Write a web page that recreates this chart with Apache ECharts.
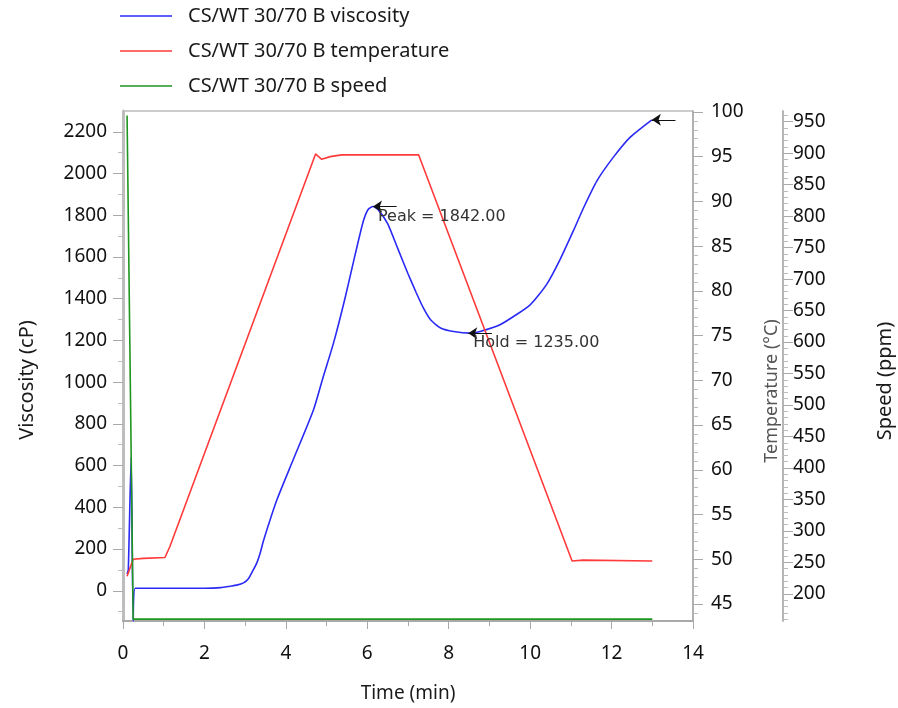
<!DOCTYPE html>
<html><head><meta charset="utf-8">
<script src="https://cdn.jsdelivr.net/npm/echarts@6/dist/echarts.min.js"></script>
<style>html,body{margin:0;padding:0;background:#fff}#chart{width:898px;height:708px}</style>
</head><body><div id="chart"></div>
<script>
// ---- data ----
const viscosityTime = [0.1, 0.13, 0.2, 0.25, 0.3, 1.0, 2.0, 2.4, 2.63, 2.79, 2.96, 3.08, 3.2, 3.29, 3.37, 3.45, 3.78, 4.18, 4.68, 4.92, 5.17, 5.45, 5.7, 5.9, 6.02, 6.14, 6.27, 6.5, 6.75, 7.0, 7.2, 7.38, 7.56, 7.8, 8.12, 8.53, 8.77, 9.26, 10.0, 10.41, 10.74, 11.06, 11.31, 11.64, 12.05, 12.46, 12.99];
const viscosityCp   = [80, 100, 642, -145, 12, 12, 12, 15, 22, 27, 38, 58, 100, 135, 181, 240, 436, 628, 868, 1027, 1187, 1400, 1610, 1770, 1828, 1842, 1826, 1760, 1640, 1520, 1430, 1355, 1298, 1260, 1243, 1235, 1243, 1275, 1371, 1470, 1590, 1725, 1835, 1965, 2080, 2175, 2258];

const temperatureTime = [0.1, 0.25, 0.5, 1.03, 1.15, 4.73, 4.88, 5.09, 5.37, 7.26, 11.03, 11.3, 13.0];
const temperatureC    = [48.1, 50.0, 50.1, 50.2, 51.4, 95.3, 94.7, 95.0, 95.2, 95.2, 49.8, 49.9, 49.8];

const speedTime = [0.1, 0.25, 13.0];
const speedRpm  = [960, 160, 160];

const seriesNames = ['CS/WT 30/70 B viscosity', 'CS/WT 30/70 B temperature', 'CS/WT 30/70 B speed'];

const timeTicks = [0, 2, 4, 6, 8, 10, 12, 14];
const viscosityTicks = [0, 200, 400, 600, 800, 1000, 1200, 1400, 1600, 1800, 2000, 2200];
const viscosityMinor = [-100, 100, 300, 500, 700, 900, 1100, 1300, 1500, 1700, 1900, 2100];
const temperatureTicks = [45, 50, 55, 60, 65, 70, 75, 80, 85, 90, 95, 100];
const speedTicks = [200, 250, 300, 350, 400, 450, 500, 550, 600, 650, 700, 750, 800, 850, 900, 950];

// annotations: [time, viscosity, label]
const peakNote = [6.14, 1842, 'Peak = 1842.00'];
const holdNote = [8.48, 1235, 'Hold = 1235.00'];
const endNote  = [12.99, 2258, ''];
const arrowLen = 0.58; // minutes

// ---- derived ----
const zip = (a, b) => a.map((v, i) => [v, b[i]]);
const temperatureMinor = [];
for (let v = 44; v <= 100; v++) if (v % 5 !== 0) temperatureMinor.push(v);
const speedMinor = [];
for (let v = 160; v <= 960; v += 10) if (v % 50 !== 0) speedMinor.push(v);

const FONT = 'Noto Sans';
const AX = '#a9a9a9';
const V_MIN = -145, V_MAX = 2300, T_MIN = 43.1, T_MAX = 100.1, S_MIN = 157, S_MAX = 967;
const plain = v => String(v);

function arrow(note) {
  return [
    { coord: [note[0], note[1]], label: { show: note[2] !== '', formatter: note[2] } },
    { coord: [note[0] + arrowLen, note[1]] }
  ];
}

const chart = echarts.init(document.getElementById('chart'));
chart.setOption({
  animation: false,
  backgroundColor: '#fff',
  textStyle: { fontFamily: FONT },
  legend: {
    orient: 'vertical', left: 120, top: 6, padding: 0, itemGap: 15,
    icon: 'rect', itemWidth: 52, itemHeight: 1.6,
    textStyle: { fontFamily: FONT, fontSize: 20, color: '#1a1a1a', padding: [0, 0, 0, 11] },
    data: seriesNames
  },
  grid: { left: 123, right: 205, top: 111, bottom: 87, containLabel: false, outerBoundsMode: 'none',
          show: true, borderColor: '#9a9a9a', borderWidth: 1 },
  xAxis: {
    type: 'value', min: 0, max: 14, interval: 2,
    name: 'Time (min)', nameLocation: 'middle', nameGap: 63,
    nameTextStyle: { fontFamily: FONT, fontSize: 19, color: '#1a1a1a' },
    axisLine: { show: true, onZero: false, lineStyle: { color: AX, width: 2 } },
    axisTick: { show: true, length: 8, lineStyle: { color: AX } },
    minorTick: { show: true, splitNumber: 2, length: 5, lineStyle: { color: AX } },
    axisLabel: { fontFamily: FONT, fontSize: 19, color: '#111', margin: 23, formatter: plain },
    splitLine: { show: false }
  },
  yAxis: [
    { // 0 viscosity
      type: 'value', min: V_MIN, max: V_MAX, position: 'left',
      name: 'Viscosity (cP)', nameLocation: 'middle', nameGap: 86, nameRotate: 90,
      nameTextStyle: { fontFamily: FONT, fontSize: 20, color: '#1a1a1a', padding: [0, 28, 0, 0] },
      axisLine: { show: true, onZero: false, lineStyle: { color: '#bdbdbd', width: 3 } },
      axisTick: { show: true, length: 10, customValues: viscosityTicks, lineStyle: { color: AX } },
      axisLabel: { customValues: viscosityTicks, fontFamily: FONT, fontSize: 19, color: '#111', margin: 16, formatter: plain },
      splitLine: { show: false }
    },
    { // 1 temperature
      type: 'value', min: T_MIN, max: T_MAX, position: 'right', offset: 0,
      name: 'Temperature (°C)', nameLocation: 'middle', nameGap: 70, nameRotate: 90,
      nameTextStyle: { fontFamily: FONT, fontSize: 18, color: '#555', padding: [0, 50, 0, 0] },
      axisLine: { show: true, onZero: false, lineStyle: { color: AX, width: 1.5 } },
      axisTick: { show: true, length: 10, customValues: temperatureTicks, lineStyle: { color: AX } },
      axisLabel: { customValues: temperatureTicks, fontFamily: FONT, fontSize: 19, color: '#111', margin: 18, formatter: plain },
      splitLine: { show: false }
    },
    { // 2 speed
      type: 'value', min: S_MIN, max: S_MAX, position: 'right', offset: 90,
      name: 'Speed (ppm)', nameLocation: 'middle', nameGap: 92, nameRotate: 90,
      nameTextStyle: { fontFamily: FONT, fontSize: 20, color: '#1a1a1a', padding: [0, 30, 0, 0] },
      axisLine: { show: true, onZero: false, lineStyle: { color: '#b5b5b5', width: 2 } },
      axisTick: { show: true, length: 10, customValues: speedTicks, lineStyle: { color: AX } },
      axisLabel: { customValues: speedTicks, fontFamily: FONT, fontSize: 19, color: '#111', margin: 10, formatter: plain },
      splitLine: { show: false }
    },
    { // 3 viscosity minor ticks
      type: 'value', min: V_MIN, max: V_MAX, position: 'left', offset: 0,
      axisLine: { show: false, onZero: false },
      axisTick: { show: true, length: 5, customValues: viscosityMinor, lineStyle: { color: '#bbb' } },
      axisLabel: { show: false, customValues: viscosityMinor },
      splitLine: { show: false }
    },
    { // 4 temperature minor ticks
      type: 'value', min: T_MIN, max: T_MAX, position: 'right', offset: 0,
      axisLine: { show: false, onZero: false },
      axisTick: { show: true, length: 5, customValues: temperatureMinor, lineStyle: { color: '#bbb' } },
      axisLabel: { show: false, customValues: temperatureMinor },
      splitLine: { show: false }
    },
    { // 5 speed minor ticks
      type: 'value', min: S_MIN, max: S_MAX, position: 'right', offset: 90,
      axisLine: { show: false, onZero: false },
      axisTick: { show: true, length: 5, customValues: speedMinor, lineStyle: { color: '#bbb' } },
      axisLabel: { show: false, customValues: speedMinor },
      splitLine: { show: false }
    }
  ],
  series: [
    {
      name: seriesNames[0], type: 'line', yAxisIndex: 0, showSymbol: false, symbol: 'none',
      data: zip(viscosityTime, viscosityCp), smooth: 0.2,
      lineStyle: { color: '#2a2af5', width: 1.6 }, itemStyle: { color: '#2a2af5' },
      markLine: {
        silent: true, symbol: ['arrow', 'none'], symbolSize: 9,
        lineStyle: { color: '#111', width: 1, type: 'solid' },
        label: { position: 'insideStartBottom', distance: [5, 2], fontFamily: 'DejaVu Sans', fontSize: 16, color: '#333' },
        data: [arrow(peakNote), arrow(holdNote), arrow(endNote)]
      }
    },
    {
      name: seriesNames[1], type: 'line', yAxisIndex: 1, showSymbol: false, symbol: 'none',
      data: zip(temperatureTime, temperatureC),
      lineStyle: { color: '#ff3a3a', width: 1.6 }, itemStyle: { color: '#ff3a3a' }
    },
    {
      name: seriesNames[2], type: 'line', yAxisIndex: 2, showSymbol: false, symbol: 'none',
      data: zip(speedTime, speedRpm),
      lineStyle: { color: '#1f961f', width: 1.6 }, itemStyle: { color: '#1f961f' }
    }
  ]
});
</script></body></html>
